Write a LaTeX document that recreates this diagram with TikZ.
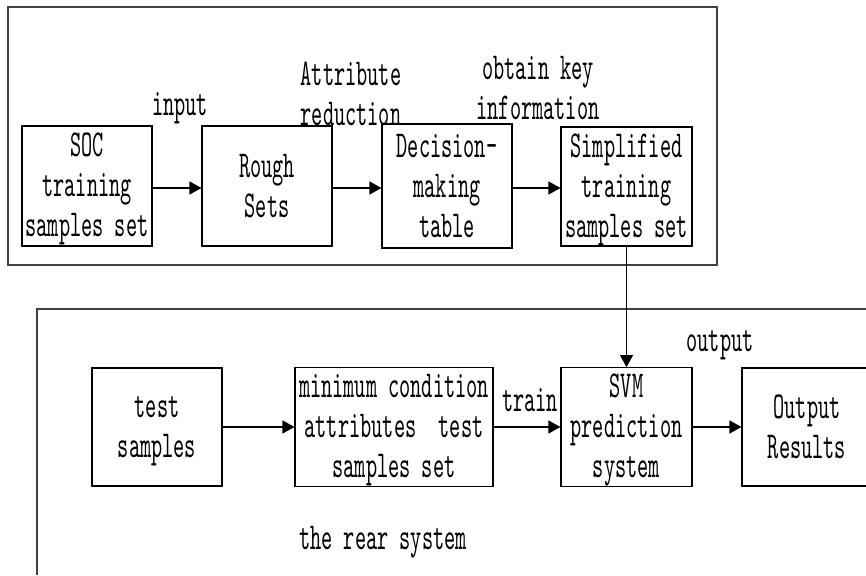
\documentclass[tikz,border=0pt]{standalone}
\usepackage{fontspec}
\setmainfont{lmmono10-regular}[Extension=.otf, FakeStretch=0.56]
\usetikzlibrary{arrows, arrows.meta}
\usetikzlibrary{calc}
\newcommand{\bstrut}{\rule[-8pt]{0pt}{38pt}}

\begin{document}
\begin{tikzpicture}[x=1pt, y=-1pt,
    font=\fontsize{38}{40}\selectfont,
    block/.style={draw, line width=1.1pt, inner sep=0pt, align=center},
    txt/.style={inner sep=0pt, align=center},
    flow/.style={line width=1.1pt, -{Triangle[length=12pt, width=13pt]}}]
    \useasboundingbox (0,0) rectangle (866,575);

    % the two frames
    \draw[line width=1.3pt, black!75] (8,7) rectangle (717,265);
    \draw[line width=1.3pt, black!75] (37,575) -- (37,309) -- (880,309);

    \node[block, minimum width=130, minimum height=120] (soc) at (87,186) {\bstrut SOC\\training\\samples set\bstrut};
    \node[block, minimum width=130, minimum height=120] (rough) at (267,186) {\bstrut Rough\\Sets\bstrut};
    \node[block, minimum width=130, minimum height=124] (dec) at (447,186) {\bstrut Decision-\\making\\table\bstrut};
    \node[block, minimum width=131, minimum height=119] (simp) at (626.5,186.5) {\bstrut Simplified\\training\\samples set\bstrut};

    \node[block, minimum width=130, minimum height=118] (test) at (157,427) {\bstrut test\\samples\bstrut};
    \node[block, minimum width=198, minimum height=118] (mincond) at (394,427) {\bstrut minimum condition\\attributes\ \ test\\samples set\bstrut};
    \node[block, minimum width=131, minimum height=118] (svm) at (626.5,427) {\bstrut SVM\\prediction\\system\bstrut};
    \node[block, minimum width=130, minimum height=118] (res) at (807,427) {\bstrut Output\\Results\bstrut};

    \node[txt] (input) at (180,108) {input};
    \node[txt] (attr) at (351,94) {Attribute\\reduction};
    \node[txt] (key) at (538,88) {obtain key\\information};
    \node[txt] (train) at (530,400) {train};
    \node[txt] (output) at (720,345) {output};
    \node[txt] (rear) at (383,542) {the rear system};

    \draw[flow] (soc.east |- 0,188) -- (rough.west |- 0,188);
    \draw[flow] (rough.east |- 0,188) -- (dec.west |- 0,188);
    \draw[flow] (dec.east |- 0,188) -- (simp.west |- 0,188);
    \draw[flow] (simp.south) -- (svm.north);
    \draw[flow] (test) -- (mincond);
    \draw[flow] (mincond) -- (svm);
    \draw[flow] (svm) -- (res);
\end{tikzpicture}
\end{document}
